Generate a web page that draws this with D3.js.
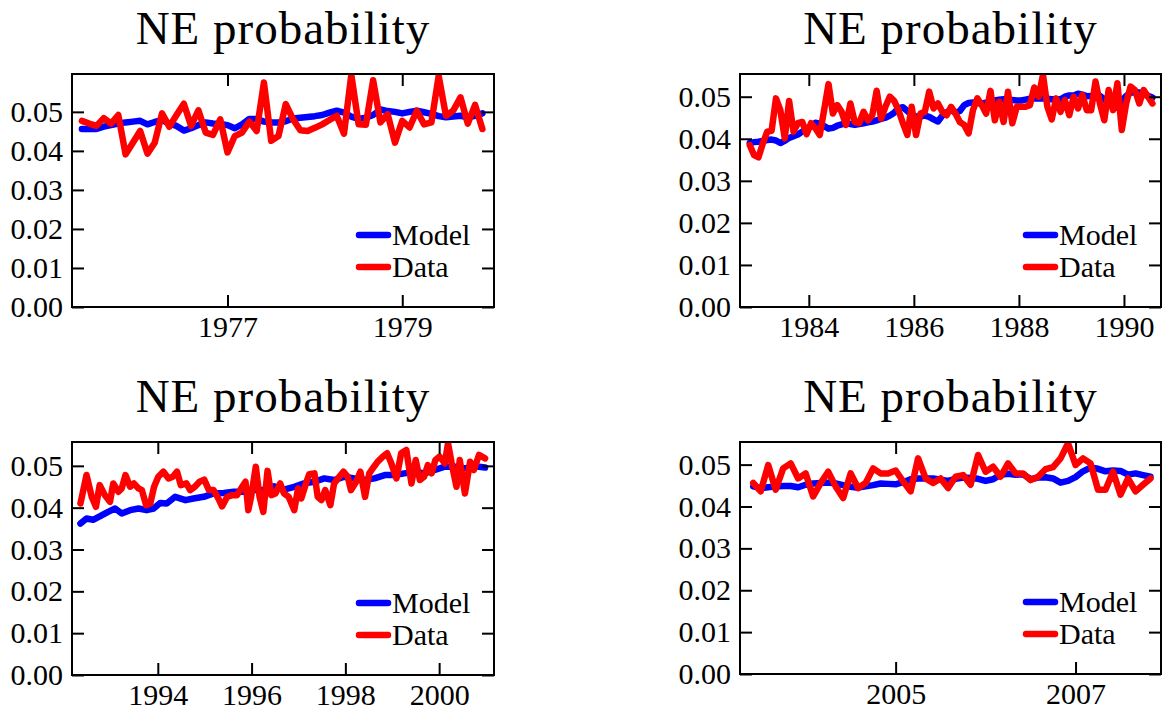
<!DOCTYPE html>
<html><head><meta charset="utf-8">
<script src="https://cdn.jsdelivr.net/npm/d3@7"></script>
<style>body{margin:0;background:#fff}svg{display:block}text{font-family:"Liberation Serif","Times New Roman",serif;fill:#000}</style>
</head><body>
<script>
const titleText = "NE probability";
const legendLabels = ["Model", "Data"];
const yTicks = [0, 0.01, 0.02, 0.03, 0.04, 0.05];

// Panel 1 (monthly from May 1975)
const p1Start = 1975 + 4/12;
const p1Data = [.0477,.0470,.0464,.0484,.0470,.0492,.0391,.0421,.0451,.0393,.0421,.0496,.0462,.0492,.0521,.0464,.0504,.0447,.0441,.0481,.0396,.0438,.0447,.0475,.0451,.0575,.0426,.0438,.0520,.0481,.0453,.0451,.0459,.0468,.0479,.0490,.0444,.0595,.0468,.0467,.0581,.0473,.0494,.0421,.0477,.0460,.0503,.0468,.0473,.0592,.0490,.0503,.0537,.0470,.0518,.0456];
const p1Model = [.0456,.0456,.0456,.0462,.0466,.0470,.0473,.0475,.0477,.0468,.0474,.0479,.0470,.0464,.0452,.0458,.0466,.0473,.0470,.0469,.0466,.0458,.0468,.0482,.0482,.0475,.0473,.0473,.0476,.0483,.0485,.0487,.0489,.0492,.0498,.0503,.0498,.0488,.0482,.0485,.0492,.0506,.0502,.0500,.0496,.0500,.0503,.0499,.0495,.0489,.0486,.0488,.0490,.0486,.0490,.0496];
const p1XTicks = [1977, 1979];

// Panel 2 (monthly)
const p2Start = 1982.875;
const p2Data = [.0385,.0361,.0356,.0389,.0417,.0419,.0496,.0468,.0401,.0490,
.0417,.0437,.0440,.0411,.0437,.0425,.0409,.0468,.0530,.0460,
.0480,.0464,.0433,.0484,.0440,.0437,.0464,.0444,.0456,.0514,
.0448,.0476,.0500,.0490,.0468,.0437,.0409,.0476,.0409,.0460,
.0464,.0512,.0472,.0484,.0464,.0456,.0476,.0460,.0440,.0433,
.0413,.0468,.0496,.0480,.0460,.0514,.0444,.0488,.0440,.0512,
.0437,.0476,.0476,.0476,.0480,.0522,.0500,.0552,.0476,.0446,
.0496,.0464,.0492,.0456,.0500,.0472,.0504,.0468,.0468,.0536,
.0484,.0444,.0516,.0468,.0532,.0421,.0484,.0524,.0516,.0484,
.0516,.0500,.0484];
const p2Model = [.0390,.0392,.0393,.0395,.0397,.0398,.0396,.0390,.0395,.0402,
.0406,.0410,.0417,.0424,.0430,.0438,.0436,.0430,.0424,.0426,
.0431,.0434,.0437,.0435,.0433,.0435,.0437,.0439,.0441,.0444,
.0447,.0450,.0455,.0462,.0473,.0475,.0466,.0457,.0453,.0453,
.0455,.0452,.0446,.0441,.0455,.0463,.0468,.0462,.0466,.0480,
.0485,.0486,.0485,.0484,.0486,.0488,.0491,.0493,.0494,.0493,
.0492,.0491,.0491,.0493,.0495,.0496,.0496,.0496,.0495,.0494,
.0494,.0494,.0500,.0503,.0503,.0507,.0505,.0501,.0502,.0503,
.0502,.0494,.0485,.0478,.0474,.0490,.0502,.0509,.0511,.0510,
.0506,.0502,.0498];
const p2XTicks = [1984, 1986, 1988, 1990];

// Panel 3 (dates read as decimal years)
const p3DataYears = [1992.35,1992.48,1992.59,1992.68,1992.76,1992.87,1992.98,1993.05,1993.16,1993.23,1993.31,1993.41,1993.49,1993.59,1993.66,1993.75,1993.84,1993.92,1994.01,1994.12,1994.23,1994.32,1994.41,1994.49,1994.61,1994.69,1994.79,1994.89,1994.99,1995.09,1995.19,1995.29,1995.37,1995.48,1995.59,1995.69,1995.80,1995.87,1995.93,1995.99,1996.09,1996.17,1996.25,1996.34,1996.42,1996.51,1996.61,1996.69,1996.79,1996.91,1996.99,1997.06,1997.16,1997.23,1997.34,1997.41,1997.49,1997.57,1997.68,1997.76,1997.87,1997.96,1998.05,1998.12,1998.23,1998.32,1998.42,1998.51,1998.61,1998.69,1998.80,1998.89,1998.98,1999.09,1999.19,1999.30,1999.41,1999.50,1999.59,1999.68,1999.76,1999.84,1999.92,2000.01,2000.12,2000.19,2000.28,2000.37,2000.44,2000.55,2000.66,2000.74,2000.85,2000.98];
const p3Data = [.0410,.0478,.0426,.0402,.0454,.0430,.0414,.0458,.0438,.0446,.0478,.0450,.0458,.0446,.0442,.0406,.0410,.0450,.0474,.0486,.0470,.0474,.0486,.0454,.0458,.0442,.0450,.0462,.0467,.0442,.0442,.0422,.0403,.0426,.0430,.0430,.0450,.0462,.0394,.0426,.0498,.0426,.0390,.0488,.0430,.0434,.0458,.0434,.0426,.0394,.0446,.0422,.0458,.0480,.0482,.0426,.0418,.0442,.0406,.0458,.0474,.0486,.0474,.0442,.0462,.0486,.0426,.0482,.0498,.0510,.0522,.0530,.0506,.0470,.0530,.0538,.0458,.0514,.0466,.0474,.0502,.0482,.0514,.0522,.0506,.0554,.0498,.0450,.0514,.0434,.0510,.0490,.0526,.0518];
const p3ModelYears = [1992.35,1992.48,1992.62,1992.76,1992.94,1993.09,1993.23,1993.41,1993.59,1993.76,1993.91,1994.05,1994.19,1994.37,1994.59,1994.76,1994.98,1995.19,1995.41,1995.62,1995.84,1996.05,1996.26,1996.48,1996.69,1996.91,1997.12,1997.34,1997.55,1997.76,1997.98,1998.19,1998.41,1998.62,1998.84,1999.05,1999.26,1999.48,1999.69,1999.91,2000.12,2000.34,2000.55,2000.76,2000.98];
const p3Model = [.0362,.0374,.0371,.0379,.0390,.0398,.0386,.0394,.0398,.0394,.0398,.0411,.0410,.0426,.0418,.0422,.0426,.0434,.0435,.0438,.0438,.0442,.0443,.0451,.0443,.0450,.0458,.0462,.0470,.0466,.0474,.0470,.0466,.0470,.0478,.0478,.0482,.0486,.0482,.0490,.0498,.0498,.0494,.0499,.0496];
const p3XTicks = [1994, 1996, 1998, 2000];

// Panel 4 (monthly from June 2003)
const p4Start = 2003 + 5/12;
const p4Data = [.0456,.0436,.0499,.0440,.0491,.0503,.0467,.0479,.0424,.0456,.0483,.0448,.0420,.0479,.0444,.0456,.0491,.0479,.0479,.0486,.0460,.0436,.0515,.0467,.0456,.0467,.0444,.0471,.0475,.0452,.0523,.0483,.0495,.0471,.0503,.0479,.0479,.0463,.0471,.0489,.0494,.0515,.0551,.0499,.0515,.0503,.0440,.0440,.0483,.0428,.0467,.0436,.0452,.0467];
const p4Model = [.0448,.0444,.0446,.0448,.0449,.0449,.0446,.0452,.0455,.0456,.0457,.0455,.0451,.0447,.0445,.0448,.0451,.0455,.0454,.0453,.0458,.0465,.0467,.0467,.0467,.0464,.0461,.0466,.0469,.0468,.0466,.0461,.0465,.0476,.0478,.0476,.0477,.0465,.0469,.0470,.0467,.0457,.0461,.0470,.0484,.0493,.0490,.0484,.0486,.0485,.0476,.0479,.0475,.0471];
const p4XTicks = [2005, 2007];

const monthly = (start, n) => d3.range(n).map(i => start + i / 12);
const zip = (xs, ys) => xs.map((x, i) => [x, ys[i]]);

const panels = [
  {box:[72,74,494,307], xd:[1975.22,1980.05], ytop:0.0597, xt:p1XTicks,
   model: zip(monthly(p1Start, p1Model.length), p1Model), data: zip(monthly(p1Start, p1Data.length), p1Data)},
  {box:[740,74,1161,307], xd:[1982.69,1990.705], ytop:0.0554, xt:p2XTicks,
   model: zip(monthly(p2Start, p2Model.length), p2Model), data: zip(monthly(p2Start, p2Data.length), p2Data)},
  {box:[72,442,494,675], xd:[1992.17,2001.17], ytop:0.0557, xt:p3XTicks,
   model: zip(p3ModelYears, p3Model), data: zip(p3DataYears, p3Data)},
  {box:[740,442,1161,674], xd:[2003.27,2007.95], ytop:0.0554, xt:p4XTicks,
   model: zip(monthly(p4Start, p4Model.length), p4Model), data: zip(monthly(p4Start, p4Data.length), p4Data)}
];

const W = 1163, H = 713;
const svg = d3.select("body").append("svg").attr("width", W).attr("height", H);
const fmt = d3.format(".2f");
const TL = 12;
const LW = 6.5;

panels.forEach((p, k) => {
  const [x0, y0, x1, y1] = p.box;
  const x = d3.scaleLinear().domain(p.xd).range([x0, x1]);
  const y = d3.scaleLinear().domain([0, p.ytop]).range([y1, y0]);
  const g = svg.append("g");
  const cid = "clip" + k;
  svg.append("clipPath").attr("id", cid).append("rect")
    .attr("x", x0).attr("y", y0).attr("width", x1 - x0).attr("height", y1 - y0);

  const line = d3.line().x(d => x(d[0])).y(d => y(d[1]));
  const lg = g.append("g").attr("clip-path", `url(#${cid})`);
  lg.append("path").datum(p.model).attr("d", line).attr("fill", "none")
    .attr("stroke", "#0000ff").attr("stroke-width", LW).attr("stroke-linejoin", "round").attr("stroke-linecap", "round");
  lg.append("path").datum(p.data).attr("d", line).attr("fill", "none")
    .attr("stroke", "#ff0000").attr("stroke-width", LW).attr("stroke-linejoin", "round").attr("stroke-linecap", "round");

  // axes with inward ticks
  const axB = d3.axisBottom(x).tickValues(p.xt).tickFormat(d3.format("d")).tickSizeInner(-TL).tickSizeOuter(0).tickPadding(9);
  const axT = d3.axisTop(x).tickValues(p.xt).tickFormat("").tickSizeInner(-TL).tickSizeOuter(0);
  const axL = d3.axisLeft(y).tickValues(yTicks).tickFormat(fmt).tickSizeInner(-TL).tickSizeOuter(0).tickPadding(9);
  const axR = d3.axisRight(y).tickValues(yTicks).tickFormat("").tickSizeInner(-TL).tickSizeOuter(0);
  const style = sel => {
    sel.select(".domain").remove();
    sel.selectAll(".tick line").attr("stroke", "#000").attr("stroke-width", 2);
    sel.selectAll(".tick text").style("font-family", '"Liberation Serif", serif').style("font-size", "30px").attr("fill", "#000");
  };
  g.append("g").attr("transform", `translate(0,${y1})`).call(axB).call(style);
  g.append("g").attr("transform", `translate(0,${y0})`).call(axT).call(style);
  g.append("g").attr("transform", `translate(${x0},0)`).call(axL).call(style);
  g.append("g").attr("transform", `translate(${x1},0)`).call(axR).call(style);

  g.append("rect").attr("x", x0).attr("y", y0).attr("width", x1 - x0).attr("height", y1 - y0)
    .attr("fill", "none").attr("stroke", "#000").attr("stroke-width", 2);

  // title
  g.append("text").attr("x", (x0 + x1) / 2).attr("y", y0 - 30).attr("text-anchor", "middle")
    .style("font-size", "47px").style("letter-spacing", "1px").text(titleText);

  // legend
  const colors = ["#0000ff", "#ff0000"];
  legendLabels.forEach((lab, i) => {
    const ly = y1 - 72 + i * 32;
    g.append("line").attr("x1", x1 - 135).attr("x2", x1 - 106).attr("y1", ly).attr("y2", ly)
      .attr("stroke", colors[i]).attr("stroke-width", LW).attr("stroke-linecap", "round");
    g.append("text").attr("x", x1 - 102).attr("y", ly + 10).style("font-size", "30px").text(lab);
  });
});
</script>
</body></html>
